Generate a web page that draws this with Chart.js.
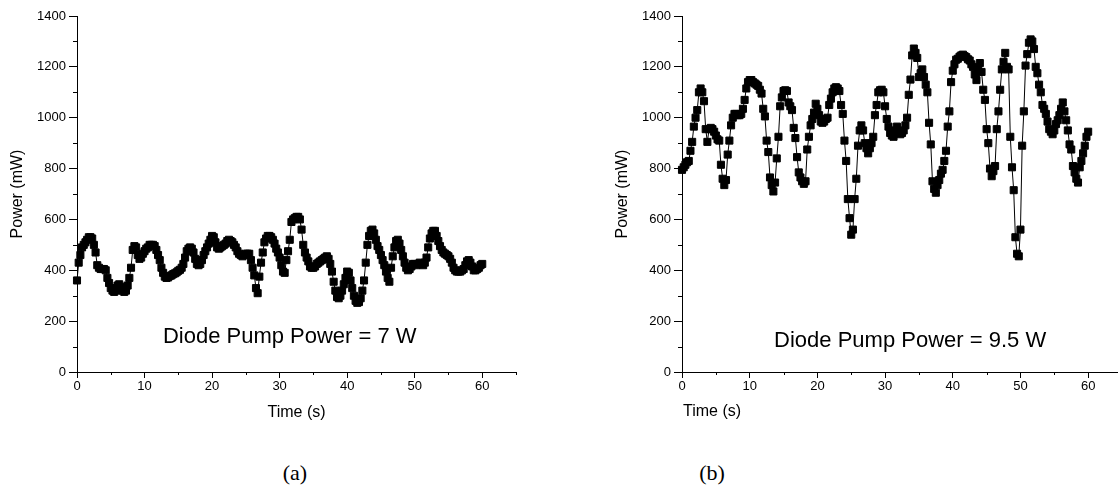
<!DOCTYPE html>
<html><head><meta charset="utf-8">
<script src="https://cdn.jsdelivr.net/npm/chart.js@4/dist/chart.umd.min.js"></script>
<style>
html,body{margin:0;padding:0;background:#fff;width:1118px;height:497px;overflow:hidden;position:relative;}
canvas{position:absolute;top:0;}
#ca{left:0}
#cb{left:600px}
.lab{position:absolute;font-family:"Liberation Serif","Times New Roman",serif;font-size:22px;color:#000;top:460px;width:60px;text-align:center;}
</style></head><body>
<canvas id="ca" width="540" height="430"></canvas>
<canvas id="cb" width="530" height="430"></canvas>
<div class="lab" style="left:265px">(a)</div>
<div class="lab" style="left:682px">(b)</div>
<script>
const time = [
0,0.25,0.5,0.75,1,1.25,1.5,1.75,2,2.25,2.5,2.75,3,3.25,3.5,3.75,4,4.25,4.5,4.75,
5,5.25,5.5,5.75,6,6.25,6.5,6.75,7,7.25,7.5,7.75,8,8.25,8.5,8.75,9,9.25,9.5,9.75,
10,10.25,10.5,10.75,11,11.25,11.5,11.75,12,12.25,12.5,12.75,13,13.25,13.5,13.75,14,14.25,14.5,14.75,
15,15.25,15.5,15.75,16,16.25,16.5,16.75,17,17.25,17.5,17.75,18,18.25,18.5,18.75,19,19.25,19.5,19.75,
20,20.25,20.5,20.75,21,21.25,21.5,21.75,22,22.25,22.5,22.75,23,23.25,23.5,23.75,24,24.25,24.5,24.75,
25,25.25,25.5,25.75,26,26.25,26.5,26.75,27,27.25,27.5,27.75,28,28.25,28.5,28.75,29,29.25,29.5,29.75,
30,30.25,30.5,30.75,31,31.25,31.5,31.75,32,32.25,32.5,32.75,33,33.25,33.5,33.75,34,34.25,34.5,34.75,
35,35.25,35.5,35.75,36,36.25,36.5,36.75,37,37.25,37.5,37.75,38,38.25,38.5,38.75,39,39.25,39.5,39.75,
40,40.25,40.5,40.75,41,41.25,41.5,41.75,42,42.25,42.5,42.75,43,43.25,43.5,43.75,44,44.25,44.5,44.75,
45,45.25,45.5,45.75,46,46.25,46.5,46.75,47,47.25,47.5,47.75,48,48.25,48.5,48.75,49,49.25,49.5,49.75,
50,50.25,50.5,50.75,51,51.25,51.5,51.75,52,52.25,52.5,52.75,53,53.25,53.5,53.75,54,54.25,54.5,54.75,
55,55.25,55.5,55.75,56,56.25,56.5,56.75,57,57.25,57.5,57.75,58,58.25,58.5,58.75,59,59.25,59.5,59.75,
60];

const powerA = [
360,430,460,490, 500,510,520,530, 530,525,500,470, 420,410,405,405, 405,400,370,350,
330,320,315,320, 340,345,335,320, 315,320,340,370, 410,480,495,490, 460,445,450,465,
475,485,490,500, 500,500,495,480, 460,440,410,390, 375,370,372,378, 380,385,388,392,
398,402,410,425, 450,475,485,490, 485,470,445,425, 420,425,440,460, 475,490,505,520,
535,530,510,490, 485,490,495,500, 505,515,520,515, 510,500,490,475, 465,460,455,460,
465,465,465,440, 410,380,330,310, 375,430,470,510, 525,535,535,530, 520,505,485,470,
450,420,395,390, 440,475,520,590, 600,605,610,610, 600,560,500,470, 450,435,415,410,
410,415,425,430, 435,440,445,450, 455,445,425,395, 355,320,295,290, 300,320,345,370,
395,390,360,330, 300,280,272,275, 290,320,360,430, 500,535,555,560, 545,520,495,480,
460,440,420,395, 370,355,410,455, 490,515,520,505, 480,455,430,410, 400,405,415,425,
425,420,425,430, 425,420,430,450, 490,525,545,555, 555,535,515,495, 480,470,465,460,
455,445,430,410, 400,395,395,395, 400,405,420,435, 440,430,415,400, 400,405,410,420,
425];

const powerB = [
795,805,815,825, 830,870,905,965, 1000,1030,1100,1115, 1100,1065,955,905, 955,960,955,945,
930,915,910,815, 760,735,755,855, 910,970,1000,1015, 1015,1010,1010,1015, 1035,1070,1115,1140,
1148,1148,1140,1135, 1130,1125,1110,1095, 1035,1005,910,865, 765,735,710,745, 840,925,1045,1080,
1105,1108,1105,1060, 1045,1030,960,920, 845,785,765,750, 740,750,875,925, 970,995,1020,1055,
1035,1010,985,980, 985,995,1000,1050, 1075,1100,1115,1120, 1115,1105,1050,1015, 910,830,680,605,
540,560,680,760, 890,950,970,950, 900,880,860,880, 900,925,1010,1050, 1100,1108,1110,1100,
1045,995,965,940, 930,925,950,965, 945,935,940,950, 970,1000,1090,1150, 1245,1272,1255,1235,
1160,1175,1190,1160, 1130,1100,980,895, 750,720,705,735, 755,780,795,830, 870,965,1025,1140,
1185,1210,1228,1232, 1240,1245,1248,1242, 1238,1230,1225,1210, 1200,1170,1148,1190, 1215,1180,1110,1070,
955,900,800,770, 790,810,955,1025, 1110,1190,1220,1255, 1200,1190,925,805, 715,530,465,455,
560,890,1025,1205, 1250,1295,1308,1300, 1270,1200,1175,1130, 1100,1050,1035,1015, 985,955,945,935,
950,975,990,1010, 1035,1060,1025,990, 950,895,875,810, 785,760,745,805, 830,860,890,925,
945];

const xTickStep = 10, xMinorStep = 5, xMax = 65;
const yTickStep = 200, yMinorStep = 100, yMax = 1400;

const FONT = '"Liberation Sans", Arial, sans-serif';

const minorTicks = {
  id: 'minorTicks',
  afterDraw(chart) {
    const {ctx, chartArea: a} = chart;
    const x = chart.scales.x, y = chart.scales.y;
    ctx.save();
    ctx.strokeStyle = '#000';
    ctx.lineWidth = 1;
    ctx.beginPath();
    for (let v = xMinorStep; v <= xMax; v += xTickStep) {
      const px = Math.round(x.getPixelForValue(v)) + 0.5;
      ctx.moveTo(px, a.bottom); ctx.lineTo(px, a.bottom + 3);
    }
    for (let v = yMinorStep; v < yMax; v += yTickStep) {
      const py = Math.round(y.getPixelForValue(v)) + 0.5;
      ctx.moveTo(a.left, py); ctx.lineTo(a.left - 4, py);
    }
    ctx.stroke();
    ctx.restore();
  }
};

// annotation text and (optionally) a manually placed x-axis title
const notePlugin = {
  id: 'note',
  afterDraw(chart, args, opts) {
    const {ctx} = chart;
    ctx.save();
    ctx.fillStyle = '#000';
    ctx.font = '22px ' + FONT;
    ctx.textAlign = 'center';
    ctx.textBaseline = 'alphabetic';
    ctx.fillText(opts.text, chart.scales.x.getPixelForValue(opts.x), chart.scales.y.getPixelForValue(opts.y));
    if (opts.xTitle) {
      ctx.font = '16px ' + FONT;
      ctx.textBaseline = 'middle';
      ctx.fillText(opts.xTitle, opts.xTitleX, opts.xTitleY);
    }
    ctx.restore();
  }
};

function makeChart(id, values, yWidth, padRight, yTitlePad, note, showXTitle) {
  const tickFont = {family: FONT, size: 13};
  const titleFont = {family: FONT, size: 16};
  return new Chart(document.getElementById(id), {
    type: 'line',
    data: {
      datasets: [{
        data: time.map((t, i) => ({x: t, y: values[i]})),
        borderColor: '#000', borderWidth: 1,
        pointStyle: 'rect', pointRadius: 5,
        pointBackgroundColor: '#000', pointBorderColor: '#000', pointBorderWidth: 1,
        tension: 0, clip: false
      }]
    },
    options: {
      responsive: false, animation: false, events: [],
      layout: {padding: {top: 16, right: padRight, left: 0, bottom: 0}},
      plugins: {legend: {display: false}, tooltip: {enabled: false}, note: note},
      scales: {
        x: {
          type: 'linear', min: 0, max: xMax,
          afterFit(s) { s.height = 58; },
          ticks: {stepSize: xTickStep, includeBounds: false, font: tickFont, color: '#000', padding: 1, maxRotation: 0, autoSkip: false, callback: v => String(v)},
          grid: {drawOnChartArea: false, tickLength: 6, tickColor: '#000', tickWidth: 1},
          border: {color: '#000', width: 1},
          title: {display: showXTitle, text: 'Time (s)', font: titleFont, color: '#000', padding: {top: 0, bottom: 8}}
        },
        y: {
          min: 0, max: yMax,
          afterFit(s) { s.width = yWidth; },
          ticks: {stepSize: yTickStep, font: tickFont, color: '#000', padding: 3, autoSkip: false, callback: v => String(v)},
          grid: {drawOnChartArea: false, tickLength: 8, tickColor: '#000', tickWidth: 1},
          border: {color: '#000', width: 1},
          title: {display: true, text: 'Power (mW)', font: titleFont, color: '#000', padding: {top: yTitlePad, bottom: 0}}
        }
      }
    },
    plugins: [minorTicks, notePlugin]
  });
}

makeChart('ca', powerA, 77, 24, 8, {text: 'Diode Pump Power = 7 W', x: 31.5, y: 113}, true);
makeChart('cb', powerB, 82, 8, 13, {text: 'Diode Pump Power = 9.5 W', x: 33.7, y: 97, xTitle: 'Time (s)', xTitleX: 112, xTitleY: 412}, false);
</script>
</body></html>
